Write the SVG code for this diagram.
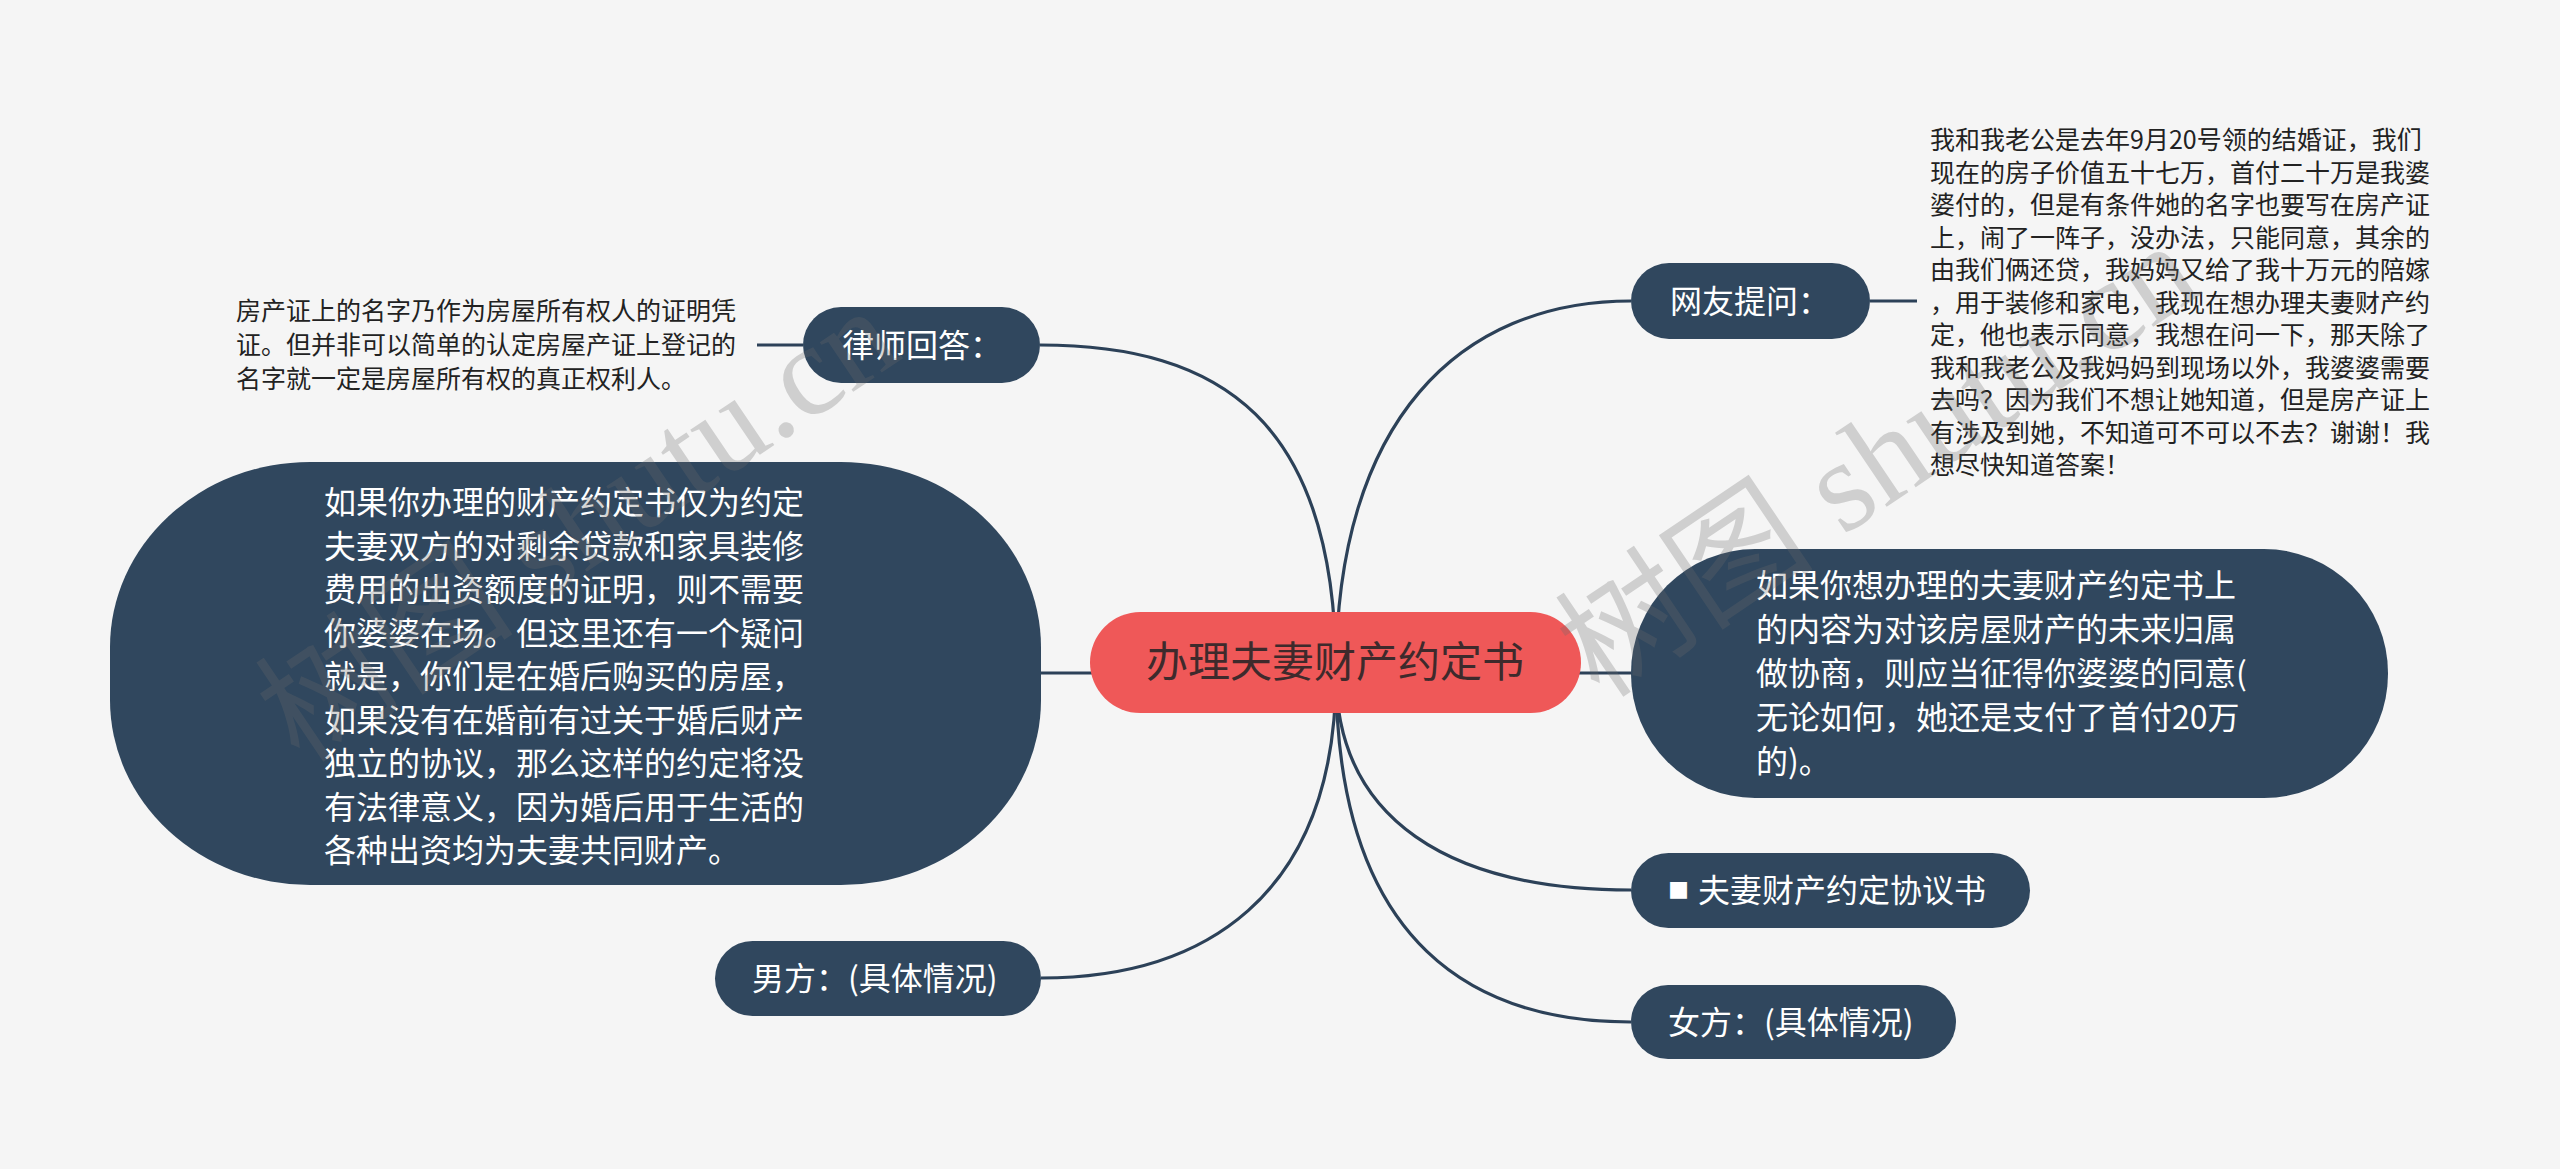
<svg xmlns="http://www.w3.org/2000/svg" width="2560" height="1169" viewBox="0 0 2560 1169">
<style>
.bg{fill:#f5f5f5}
.node{fill:#30475e}
.root{fill:#ef5858}
.link{fill:none;stroke:#2c4158;stroke-width:3.2}
.t{font-family:"Noto Sans CJK SC","Noto Sans",sans-serif}
.w{fill:#ffffff}
.small{font-size:32px}
.big{font-size:32px}
.note{font-size:25px;fill:#222222}
.rt{font-size:42px;fill:#3e2a2c}
.wm{font-family:"Liberation Serif","Noto Sans CJK SC",serif;font-size:130px;fill:#6b6b6b;opacity:0.27}
</style>
<rect class="bg" x="0" y="0" width="2560" height="1169"/>
<g id="connectors">
<path class="link" d="M1336,673 L1041,673"/>
<path class="link" d="M1336,673 L1631,673"/>
<path class="link" d="M1336,673 C1336,420 1220,345 1040,345"/>
<path class="link" d="M1336,673 C1336,420 1460,301 1631,301"/>
<path class="link" d="M1336,673 C1336,820 1450,890 1631,890"/>
<path class="link" d="M1336,673 C1336,900 1200,978 1041,978"/>
<path class="link" d="M1336,673 C1336,950 1480,1022 1631,1022"/>
<path class="link" d="M803,345 L757,345"/>
<path class="link" d="M1870,301 L1917,301"/>
</g>
<g id="root">
<rect class="root" x="1090" y="612" width="491" height="101" rx="50.5"/>
<text class="t rt" x="1335" y="677" text-anchor="middle">办理夫妻财产约定书</text>
</g>
<g id="lawyer">
<rect class="node" x="803" y="307" width="237" height="76" rx="38"/>
<text class="t small w" x="842" y="357">律师回答：</text>
</g>
<g id="lawyer-answer">
<text class="t note">
<tspan x="236" y="320">房产证上的名字乃作为房屋所有权人的证明凭</tspan>
<tspan x="236" y="354">证。但并非可以简单的认定房屋产证上登记的</tspan>
<tspan x="236" y="388">名字就一定是房屋所有权的真正权利人。</tspan>
</text>
</g>
<g id="question">
<rect class="node" x="1631" y="263" width="239" height="76" rx="38"/>
<text class="t small w" x="1670" y="313">网友提问：</text>
</g>
<g id="question-text">
<text class="t note">
<tspan x="1930" y="149">我和我老公是去年9月20号领的结婚证，我们</tspan>
<tspan x="1930" y="181.5">现在的房子价值五十七万，首付二十万是我婆</tspan>
<tspan x="1930" y="214">婆付的，但是有条件她的名字也要写在房产证</tspan>
<tspan x="1930" y="246.5">上，闹了一阵子，没办法，只能同意，其余的</tspan>
<tspan x="1930" y="279">由我们俩还贷，我妈妈又给了我十万元的陪嫁</tspan>
<tspan x="1930" y="311.5">，用于装修和家电，我现在想办理夫妻财产约</tspan>
<tspan x="1930" y="344">定，他也表示同意，我想在问一下，那天除了</tspan>
<tspan x="1930" y="376.5">我和我老公及我妈妈到现场以外，我婆婆需要</tspan>
<tspan x="1930" y="409">去吗？因为我们不想让她知道，但是房产证上</tspan>
<tspan x="1930" y="441.5">有涉及到她，不知道可不可以不去？谢谢！我</tspan>
<tspan x="1930" y="474">想尽快知道答案！</tspan>
</text>
</g>
<g id="left-answer">
<rect class="node" x="110" y="462" width="931" height="423" rx="200" ry="185"/>
<text class="t big w">
<tspan x="324" y="514">如果你办理的财产约定书仅为约定</tspan>
<tspan x="324" y="557.5">夫妻双方的对剩余贷款和家具装修</tspan>
<tspan x="324" y="601">费用的出资额度的证明，则不需要</tspan>
<tspan x="324" y="644.5">你婆婆在场。但这里还有一个疑问</tspan>
<tspan x="324" y="688">就是，你们是在婚后购买的房屋，</tspan>
<tspan x="324" y="731.5">如果没有在婚前有过关于婚后财产</tspan>
<tspan x="324" y="775">独立的协议，那么这样的约定将没</tspan>
<tspan x="324" y="818.5">有法律意义，因为婚后用于生活的</tspan>
<tspan x="324" y="862">各种出资均为夫妻共同财产。</tspan>
</text>
</g>
<g id="right-answer">
<rect class="node" x="1631" y="549" width="757" height="249" rx="124"/>
<text class="t big w">
<tspan x="1756" y="597">如果你想办理的夫妻财产约定书上</tspan>
<tspan x="1756" y="641">的内容为对该房屋财产的未来归属</tspan>
<tspan x="1756" y="685">做协商，则应当征得你婆婆的同意(</tspan>
<tspan x="1756" y="729">无论如何，她还是支付了首付20万</tspan>
<tspan x="1756" y="773">的)。</tspan>
</text>
</g>
<g id="agreement">
<rect class="node" x="1631" y="853" width="399" height="75" rx="37.5"/>
<text class="t small w" x="1668" y="901"><tspan font-size="21" y="898">■ </tspan><tspan x="1698" y="902">夫妻财产约定协议书</tspan></text>
</g>
<g id="male">
<rect class="node" x="715" y="941" width="326" height="75" rx="37.5"/>
<text class="t small w" x="752" y="990">男方：(具体情况)</text>
</g>
<g id="female">
<rect class="node" x="1631" y="985" width="325" height="74" rx="37"/>
<text class="t small w" x="1668" y="1034">女方：(具体情况)</text>
</g>
<g id="watermark">
<text class="wm" x="300" y="765" transform="rotate(-34 300 765)">树图 shutu.cn</text>
<text class="wm" x="1600" y="700" transform="rotate(-34 1600 700)">树图 shutu.cn</text>
</g>
</svg>
